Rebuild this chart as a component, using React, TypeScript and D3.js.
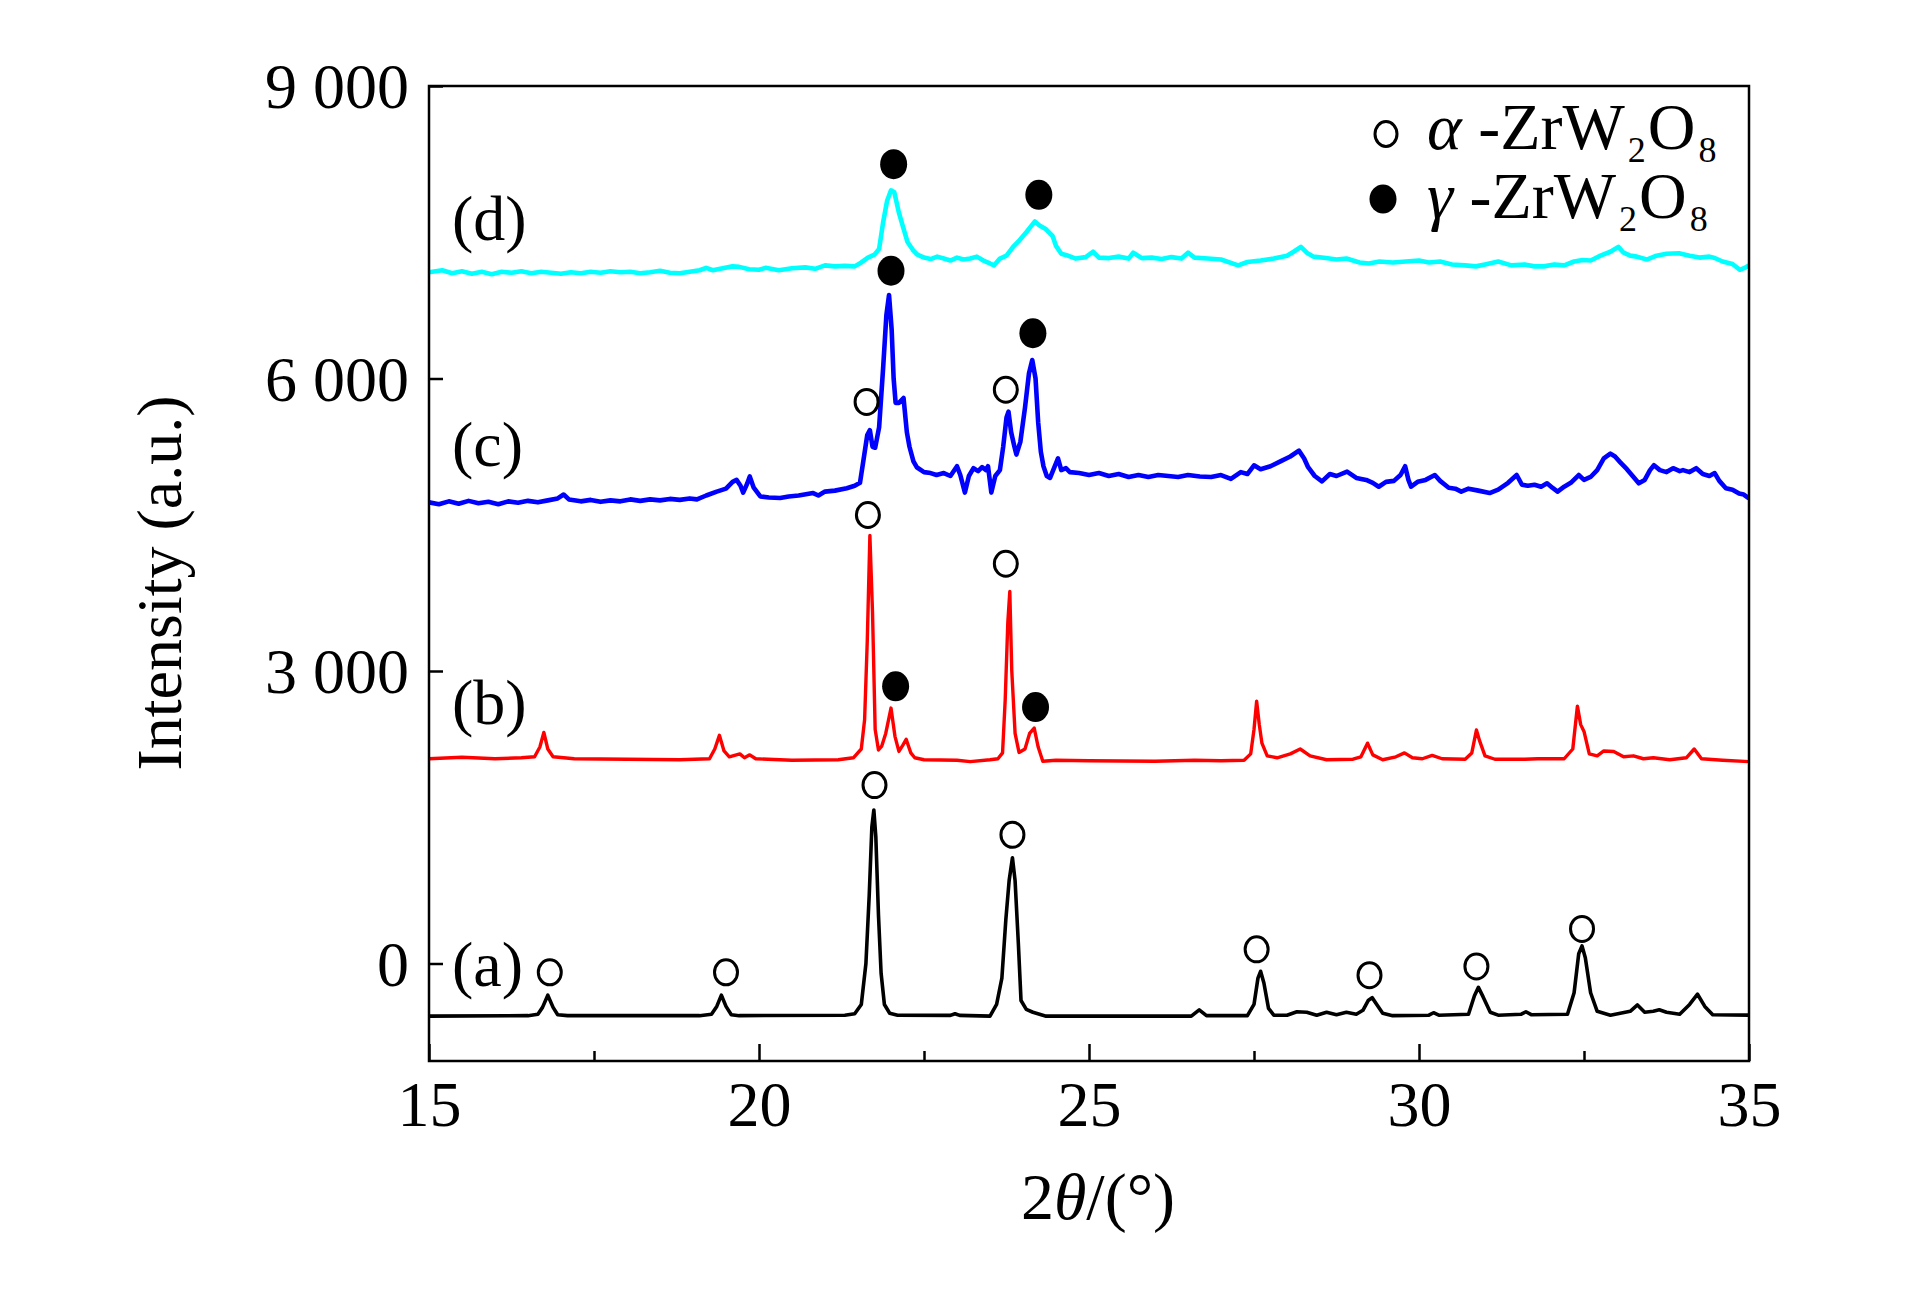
import { useEffect, useRef } from 'react';
import * as d3 from 'd3';

type Pt = [number, number];

const xTicks = [15, 20, 25, 30, 35];
const xMinorTicks = [17.5, 22.5, 27.5, 32.5];
const yTicks = [0, 3000, 6000, 9000];
const yTickLabels = ['0', '3 000', '6 000', '9 000'];
const curveLabels = ['(a)', '(b)', '(c)', '(d)'];
const curveColors = ['#000000', '#ff0000', '#0000ff', '#00ffff'];

// (a) black
const seriesA: Pt[] = [
  [15, -540], [16.5, -535], [16.65, -520], [16.72, -450], [16.8, -325], [16.88, -450], [16.95, -525], [17.1, -535],
  [19.1, -535], [19.28, -520], [19.36, -440], [19.43, -325], [19.5, -440], [19.58, -525], [19.7, -535],
  [21.3, -530], [21.45, -515], [21.55, -420], [21.62, 0], [21.67, 700], [21.71, 1400], [21.74, 1575], [21.77, 1300],
  [21.81, 500], [21.85, -100], [21.9, -420], [21.98, -510], [22.1, -530], [22.9, -532], [22.97, -515], [23.04, -532],
  [23.5, -540], [23.6, -420], [23.68, -150], [23.74, 450], [23.79, 850], [23.84, 1085], [23.88, 850], [23.93, 200],
  [23.97, -380], [24.05, -470], [24.15, -500], [24.35, -540], [26.55, -540], [26.67, -475], [26.78, -535],
  [27.4, -535], [27.5, -420], [27.56, -150], [27.6, -80], [27.65, -200], [27.72, -460], [27.8, -530], [28.0, -530],
  [28.15, -495], [28.3, -500], [28.45, -530], [28.6, -500], [28.75, -525], [28.9, -500], [29.05, -520], [29.15, -480],
  [29.23, -380], [29.29, -350], [29.36, -420], [29.45, -510], [29.6, -535], [30.15, -530], [30.22, -505], [30.3, -530],
  [30.75, -520], [30.84, -330], [30.9, -245], [30.97, -340], [31.08, -500], [31.2, -530], [31.55, -520], [31.62, -495],
  [31.7, -525], [32.25, -520], [32.35, -300], [32.42, 100], [32.47, 180], [32.52, 60], [32.6, -300], [32.7, -490],
  [32.9, -530], [33.2, -490], [33.31, -425], [33.42, -500], [33.55, -490], [33.64, -475], [33.75, -500], [33.95, -520],
  [34.1, -420], [34.22, -315], [34.33, -440], [34.45, -525], [35, -530],
];

// (b) red
const seriesB: Pt[] = [
  [15, 2100], [15.5, 2115], [16.0, 2100], [16.4, 2110], [16.6, 2120], [16.68, 2220], [16.74, 2370], [16.8, 2200],
  [16.88, 2120], [17.2, 2100], [18.0, 2095], [18.8, 2090], [19.25, 2100], [19.33, 2200], [19.4, 2340], [19.47, 2180],
  [19.55, 2120], [19.71, 2150], [19.78, 2110], [19.86, 2140], [19.95, 2100], [20.5, 2085], [21.2, 2090], [21.43, 2110],
  [21.55, 2200], [21.6, 2500], [21.64, 3300], [21.68, 4390], [21.72, 3600], [21.76, 2400], [21.81, 2190], [21.86, 2230],
  [21.92, 2360], [22.0, 2620], [22.06, 2330], [22.12, 2175], [22.18, 2240], [22.23, 2300], [22.3, 2160], [22.36, 2110],
  [22.5, 2090], [23.0, 2085], [23.2, 2070], [23.5, 2090], [23.62, 2100], [23.69, 2160], [23.73, 2700], [23.77, 3500],
  [23.8, 3815], [23.83, 3000], [23.88, 2360], [23.94, 2165], [24.03, 2200], [24.1, 2360], [24.17, 2415], [24.23, 2220],
  [24.3, 2075], [24.5, 2085], [25.0, 2080], [26.0, 2075], [26.6, 2085], [27.0, 2080], [27.35, 2085], [27.45, 2150],
  [27.5, 2400], [27.54, 2690], [27.58, 2450], [27.62, 2260], [27.7, 2130], [27.85, 2110], [28.05, 2150], [28.2, 2200],
  [28.35, 2130], [28.6, 2090], [29.0, 2095], [29.12, 2120], [29.22, 2260], [29.3, 2140], [29.45, 2090], [29.65, 2120],
  [29.78, 2160], [29.9, 2110], [30.05, 2100], [30.2, 2135], [30.35, 2100], [30.7, 2095], [30.8, 2160], [30.87, 2395],
  [30.92, 2280], [31.0, 2130], [31.15, 2095], [31.6, 2095], [31.8, 2100], [32.2, 2100], [32.33, 2200], [32.4, 2640],
  [32.45, 2450], [32.5, 2380], [32.58, 2150], [32.7, 2130], [32.8, 2180], [32.95, 2175], [33.1, 2120], [33.25, 2130],
  [33.4, 2100], [33.55, 2110], [33.8, 2090], [34.05, 2110], [34.17, 2200], [34.28, 2100], [34.6, 2085], [35, 2070],
];

// (c) blue
const seriesC: Pt[] = [
  [15, 4730], [15.15, 4710], [15.3, 4740], [15.45, 4715], [15.6, 4745], [15.75, 4720], [15.9, 4735], [16.05, 4710],
  [16.2, 4740], [16.35, 4725], [16.5, 4745], [16.65, 4730], [16.8, 4750], [16.95, 4770], [17.04, 4810], [17.12, 4760],
  [17.3, 4740], [17.45, 4755], [17.6, 4735], [17.75, 4750], [17.9, 4740], [18.05, 4760], [18.2, 4745], [18.35, 4760],
  [18.5, 4750], [18.65, 4765], [18.8, 4755], [18.95, 4770], [19.06, 4760], [19.2, 4800], [19.36, 4840], [19.5, 4870],
  [19.6, 4940], [19.66, 4960], [19.72, 4900], [19.76, 4830], [19.82, 4920], [19.86, 4995], [19.92, 4880], [20.02, 4790],
  [20.15, 4780], [20.32, 4775], [20.45, 4790], [20.6, 4800], [20.82, 4825], [20.9, 4800], [21.0, 4840], [21.15, 4850],
  [21.33, 4875], [21.45, 4900], [21.53, 4930], [21.58, 5150], [21.64, 5420], [21.68, 5470], [21.72, 5300], [21.76, 5290],
  [21.82, 5500], [21.88, 6100], [21.93, 6650], [21.97, 6856], [22.01, 6500], [22.04, 6000], [22.07, 5750], [22.12, 5750],
  [22.19, 5800], [22.24, 5450], [22.28, 5300], [22.34, 5150], [22.39, 5090], [22.5, 5040], [22.6, 5030], [22.69, 5010],
  [22.8, 5030], [22.9, 5000], [23.0, 5100], [23.05, 5010], [23.12, 4830], [23.18, 5000], [23.25, 5080], [23.32, 5050],
  [23.38, 5090], [23.44, 5060], [23.47, 5100], [23.52, 4830], [23.58, 5000], [23.65, 5060], [23.7, 5300], [23.75, 5600],
  [23.78, 5660], [23.82, 5450], [23.87, 5300], [23.9, 5220], [23.96, 5350], [24.03, 5700], [24.09, 6050], [24.14, 6190],
  [24.19, 6000], [24.23, 5550], [24.27, 5250], [24.31, 5100], [24.36, 5000], [24.41, 4980], [24.47, 5080], [24.53, 5180],
  [24.58, 5060], [24.65, 5080], [24.71, 5040], [24.85, 5030], [25.0, 5010], [25.15, 5030], [25.3, 5000], [25.45, 5020],
  [25.6, 4990], [25.75, 5010], [25.9, 4990], [26.05, 5010], [26.2, 5000], [26.35, 4990], [26.5, 5010], [26.68, 4995],
  [26.85, 4990], [27.0, 5010], [27.15, 4970], [27.3, 5040], [27.4, 5020], [27.5, 5110], [27.6, 5070], [27.75, 5100],
  [27.9, 5150], [28.05, 5200], [28.18, 5260], [28.26, 5180], [28.32, 5090], [28.42, 5000], [28.53, 4945], [28.65, 5020],
  [28.75, 5000], [28.91, 5045], [29.05, 4980], [29.2, 4960], [29.3, 4930], [29.39, 4890], [29.5, 4940], [29.62, 4950],
  [29.72, 5010], [29.79, 5100], [29.84, 4960], [29.88, 4890], [29.98, 4940], [30.1, 4960], [30.24, 5010], [30.32, 4950],
  [30.45, 4880], [30.55, 4870], [30.64, 4840], [30.75, 4870], [30.9, 4850], [31.07, 4825], [31.2, 4860], [31.35, 4930],
  [31.48, 5010], [31.56, 4910], [31.65, 4900], [31.75, 4910], [31.85, 4890], [31.94, 4925], [32.02, 4880], [32.1, 4840],
  [32.2, 4890], [32.3, 4930], [32.42, 5010], [32.5, 4960], [32.6, 4990], [32.7, 5060], [32.8, 5180], [32.9, 5230],
  [32.97, 5200], [33.05, 5140], [33.15, 5070], [33.25, 4990], [33.33, 4925], [33.42, 4960], [33.5, 5060], [33.56, 5110],
  [33.65, 5060], [33.75, 5040], [33.85, 5080], [33.95, 5050], [34.0, 5060], [34.1, 5040], [34.2, 5080], [34.3, 5020],
  [34.4, 5000], [34.48, 5030], [34.55, 4950], [34.65, 4875], [34.75, 4860], [34.85, 4820], [34.92, 4810], [35, 4770],
];

// (d) cyan
const seriesD: Pt[] = [
  [15, 7090], [15.2, 7110], [15.35, 7080], [15.5, 7100], [15.65, 7075], [15.8, 7095], [15.95, 7070], [16.1, 7095],
  [16.25, 7085], [16.4, 7100], [16.55, 7080], [16.7, 7095], [16.85, 7085], [17.0, 7075], [17.15, 7090], [17.3, 7080],
  [17.45, 7095], [17.6, 7085], [17.75, 7100], [17.9, 7090], [18.05, 7095], [18.2, 7080], [18.35, 7090], [18.5, 7105],
  [18.65, 7085], [18.8, 7080], [18.95, 7095], [19.1, 7110], [19.2, 7135], [19.3, 7110], [19.45, 7130], [19.6, 7150],
  [19.7, 7145], [19.85, 7120], [20.0, 7115], [20.1, 7135], [20.3, 7110], [20.5, 7130], [20.7, 7140], [20.85, 7125],
  [21.0, 7160], [21.15, 7150], [21.3, 7155], [21.45, 7150], [21.55, 7190], [21.65, 7240], [21.75, 7270], [21.82, 7330],
  [21.88, 7600], [21.94, 7820], [22.0, 7930], [22.05, 7910], [22.12, 7700], [22.18, 7560], [22.25, 7400], [22.33, 7320],
  [22.4, 7270], [22.5, 7240], [22.6, 7225], [22.7, 7250], [22.8, 7230], [22.9, 7210], [23.0, 7240], [23.1, 7220],
  [23.2, 7230], [23.3, 7250], [23.4, 7210], [23.5, 7180], [23.56, 7160], [23.65, 7230], [23.75, 7260], [23.85, 7350],
  [23.95, 7420], [24.05, 7500], [24.12, 7560], [24.18, 7610], [24.25, 7570], [24.35, 7530], [24.45, 7460], [24.5, 7360],
  [24.58, 7280], [24.66, 7265], [24.8, 7230], [24.95, 7245], [25.06, 7300], [25.15, 7240], [25.3, 7235], [25.45, 7250],
  [25.6, 7230], [25.67, 7290], [25.8, 7235], [25.95, 7240], [26.1, 7225], [26.25, 7245], [26.4, 7230], [26.5, 7290],
  [26.6, 7240], [26.8, 7230], [27.0, 7220], [27.26, 7160], [27.4, 7195], [27.6, 7210], [27.8, 7230], [28.0, 7260],
  [28.1, 7300], [28.21, 7350], [28.3, 7290], [28.4, 7250], [28.59, 7235], [28.75, 7220], [28.9, 7230], [29.1, 7190],
  [29.24, 7180], [29.4, 7200], [29.6, 7190], [29.8, 7200], [30.0, 7210], [30.15, 7190], [30.32, 7200], [30.5, 7170],
  [30.7, 7160], [30.86, 7150], [31.0, 7170], [31.2, 7200], [31.4, 7160], [31.6, 7170], [31.75, 7150], [31.89, 7150],
  [32.05, 7170], [32.2, 7160], [32.35, 7200], [32.48, 7215], [32.6, 7210], [32.75, 7260], [32.9, 7300], [33.02, 7350],
  [33.1, 7290], [33.2, 7260], [33.3, 7250], [33.45, 7220], [33.6, 7260], [33.75, 7280], [33.94, 7285], [34.1, 7260],
  [34.25, 7240], [34.4, 7250], [34.48, 7236], [34.6, 7200], [34.75, 7175], [34.86, 7115], [34.95, 7140], [35, 7160],
];

// phase markers: open = alpha, filled = gamma
const alphaMarks: Pt[] = [
  [16.83, -90], [19.5, -90], [21.75, 1830], [23.84, 1320], [27.54, 145], [29.25, -120], [30.87, -30], [32.47, 355],
  [21.65, 4600], [23.74, 4100], [21.63, 5760], [23.74, 5885],
];
const gammaMarks: Pt[] = [
  [22.07, 2843], [24.19, 2630], [22.0, 7105], [24.15, 6464], [22.04, 8198], [24.24, 7884],
];

const W = 1923;
const H = 1299;
const margin = { left: 429, right: 174, top: 86, bottom: 238 };
const FONT = '"Liberation Serif", "Times New Roman", serif';

export default function App() {
  const svgRef = useRef<SVGSVGElement>(null);

  useEffect(() => {
    const svg = d3.select(svgRef.current);
    svg.selectAll('*').remove();

    const x = d3.scaleLinear().domain([15, 35]).range([margin.left, W - margin.right]);
    const y = d3.scaleLinear().domain([-1000, 9000]).range([H - margin.bottom, margin.top]);

    svg.append('defs').append('clipPath').attr('id', 'plot-clip')
      .append('rect')
      .attr('x', x(15)).attr('y', y(9000))
      .attr('width', x(35) - x(15)).attr('height', y(-1000) - y(9000));

    // curves
    const line = d3.line<Pt>().x(d => x(d[0])).y(d => y(d[1]));
    const allSeries = [seriesA, seriesB, seriesC, seriesD];
    const widths = [3.6, 3.4, 4.6, 4.6];
    const g = svg.append('g').attr('clip-path', 'url(#plot-clip)');
    allSeries.forEach((s, i) => {
      g.append('path')
        .attr('d', line(s))
        .attr('fill', 'none')
        .attr('stroke', curveColors[i])
        .attr('stroke-width', widths[i])
        .attr('stroke-linejoin', 'round');
    });

    // markers
    svg.append('g').selectAll('ellipse.alpha').data(alphaMarks).enter()
      .append('ellipse')
      .attr('cx', d => x(d[0])).attr('cy', d => y(d[1]))
      .attr('rx', 11.5).attr('ry', 12.5)
      .attr('fill', 'white').attr('stroke', 'black').attr('stroke-width', 3);
    svg.append('g').selectAll('ellipse.gamma').data(gammaMarks).enter()
      .append('ellipse')
      .attr('cx', d => x(d[0])).attr('cy', d => y(d[1]))
      .attr('rx', 13.5).attr('ry', 15)
      .attr('fill', 'black');

    // frame
    svg.append('rect')
      .attr('x', x(15)).attr('y', y(9000))
      .attr('width', x(35) - x(15)).attr('height', y(-1000) - y(9000))
      .attr('fill', 'none').attr('stroke', 'black').attr('stroke-width', 2.5);

    // x axis
    const xAxis = d3.axisBottom(x).tickValues(xTicks).tickSize(-17).tickPadding(30)
      .tickFormat(d => String(d));
    const gx = svg.append('g').attr('transform', `translate(0,${y(-1000)})`).call(xAxis);
    const xMinor = d3.axisBottom(x).tickValues(xMinorTicks).tickSize(-10).tickFormat(() => '');
    const gxm = svg.append('g').attr('transform', `translate(0,${y(-1000)})`).call(xMinor);
    [gx, gxm].forEach(a => {
      a.select('.domain').remove();
      a.selectAll('line').attr('stroke', 'black').attr('stroke-width', 2.5);
    });
    gx.selectAll('text')
      .attr('font-family', FONT).attr('font-size', 64).attr('fill', 'black')
      .attr('dy', '0.55em');

    // y axis
    const yAxis = d3.axisLeft(y).tickValues(yTicks).tickSize(-14).tickPadding(20)
      .tickFormat((d, i) => yTickLabels[i]);
    const gy = svg.append('g').attr('transform', `translate(${x(15)},0)`).call(yAxis);
    gy.select('.domain').remove();
    gy.selectAll('line').attr('stroke', 'black').attr('stroke-width', 2.5);
    gy.selectAll('text')
      .attr('font-family', FONT).attr('font-size', 64).attr('fill', 'black')
      .attr('dy', '0.34em');

    // axis titles
    svg.append('text')
      .attr('transform', `translate(181,${583}) rotate(-90)`)
      .attr('text-anchor', 'middle')
      .attr('font-family', FONT).attr('font-size', 64)
      .text('Intensity (a.u.)');

    const xt = svg.append('text')
      .attr('x', 1098).attr('y', 1219)
      .attr('text-anchor', 'middle')
      .attr('font-family', FONT).attr('font-size', 66);
    xt.append('tspan').text('2');
    xt.append('tspan').attr('font-style', 'italic').text('θ');
    xt.append('tspan').text('/(\u00b0)');

    // curve labels
    const labelY = [986, 724, 466, 240];
    curveLabels.forEach((t, i) => {
      svg.append('text')
        .attr('x', 452).attr('y', labelY[i])
        .attr('font-family', FONT).attr('font-size', 64)
        .text(t);
    });

    // legend
    const legendRows = [
      { sym: 'α', filled: false, cy: 134, base: 149 },
      { sym: 'γ', filled: true, cy: 199, base: 218 },
    ];
    legendRows.forEach(r => {
      svg.append('ellipse')
        .attr('cx', r.filled ? 1383 : 1386).attr('cy', r.cy)
        .attr('rx', r.filled ? 13.5 : 11).attr('ry', r.filled ? 14.5 : 12.5)
        .attr('fill', r.filled ? 'black' : 'white')
        .attr('stroke', r.filled ? 'none' : 'black').attr('stroke-width', 3);
      const t = svg.append('text')
        .attr('x', 1427).attr('y', r.base)
        .attr('font-family', FONT).attr('font-size', 66);
      t.append('tspan').attr('font-style', 'italic').text(r.sym);
      t.append('tspan').text(' -ZrW');
      t.append('tspan').attr('font-size', 36).attr('dx', 3).attr('dy', 13).text('2');
      t.append('tspan').attr('dx', 2).attr('dy', -13).text('O');
      t.append('tspan').attr('font-size', 36).attr('dx', 3).attr('dy', 13).text('8');
    });
  }, []);

  return (
    <div style={{ position: 'absolute', left: 0, top: 0, width: W, height: H, overflow: 'hidden', background: 'white' }}>
      <svg ref={svgRef} width={W} height={H} style={{ display: 'block' }} />
    </div>
  );
}
